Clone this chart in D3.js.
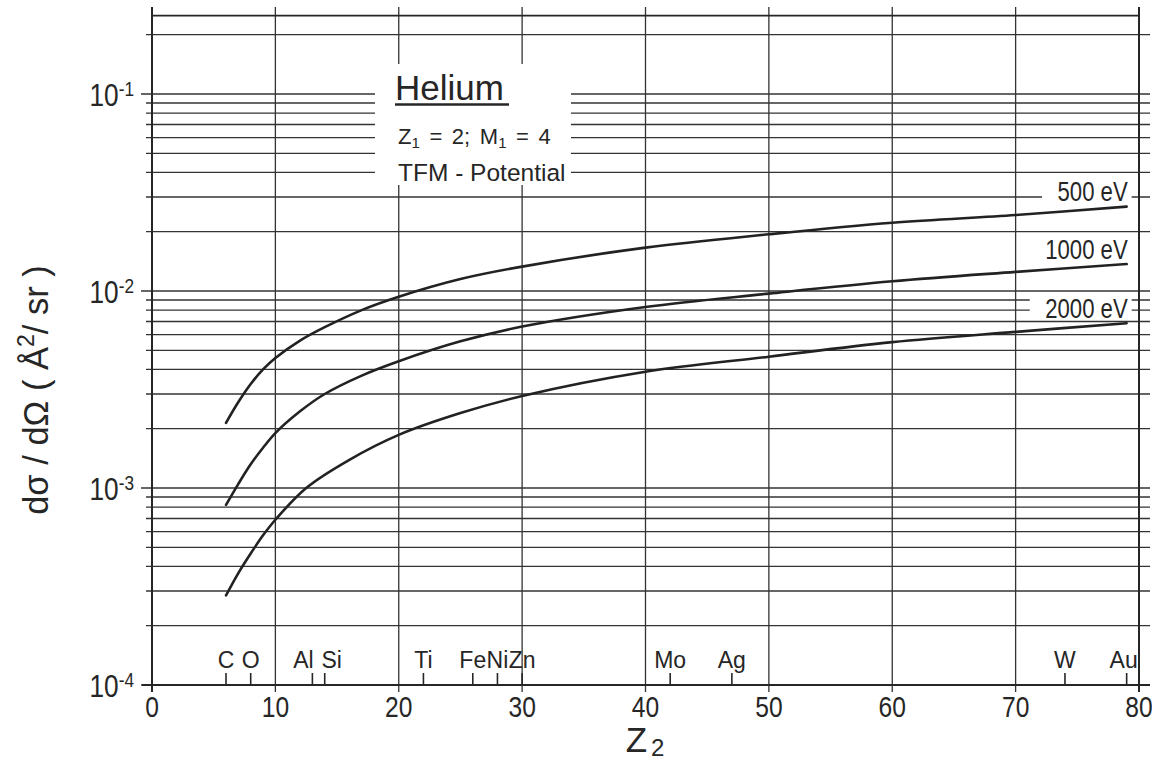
<!DOCTYPE html>
<html>
<head>
<meta charset="utf-8">
<script src="https://cdn.jsdelivr.net/npm/d3@7"></script>
<style>
  html, body { margin: 0; padding: 0; background: #fff; }
  svg { display: block; }
  text { font-family: "Liberation Sans", Arial, "DejaVu Sans", sans-serif; }
</style>
</head>
<body>
<svg id="chart" width="1152" height="761"></svg>
<script>
// ---------------- data ----------------
const seriesLabels = ["500 eV", "1000 eV", "2000 eV"];

const z500  = [6, 7, 8, 9, 10, 12, 14, 17, 20, 25, 30, 40, 50, 60, 70, 79];
const v500  = [2.14e-3, 2.73e-3, 3.37e-3, 4.0e-3, 4.57e-3, 5.6e-3, 6.55e-3, 8.0e-3, 9.35e-3, 0.0115, 0.0133, 0.0166, 0.0194, 0.0222, 0.0243, 0.0268];

const z1000 = [6, 7, 8, 9, 10, 12, 14, 17, 20, 25, 30, 40, 50, 60, 70, 79];
const v1000 = [8.2e-4, 1.05e-3, 1.32e-3, 1.6e-3, 1.9e-3, 2.45e-3, 3.0e-3, 3.72e-3, 4.4e-3, 5.55e-3, 6.6e-3, 8.3e-3, 9.7e-3, 0.0112, 0.0125, 0.0137];

const z2000 = [6, 7, 8, 9, 10, 12.5, 16, 20, 25, 30, 40, 50, 60, 70, 79];
const v2000 = [2.85e-4, 3.7e-4, 4.65e-4, 5.75e-4, 6.9e-4, 1.0e-3, 1.39e-3, 1.86e-3, 2.4e-3, 2.93e-3, 3.89e-3, 4.64e-3, 5.5e-3, 6.2e-3, 6.86e-3];

const elementNames = ["C", "O", "Al", "Si", "Ti", "Fe", "Ni", "Zn", "Mo", "Ag", "W", "Au"];
const elementZ     = [6, 8, 13, 14, 22, 26, 28, 30, 42, 47, 74, 79];

const xTickValues = [0, 10, 20, 30, 40, 50, 60, 70, 80];
const yMajorExponents = [-1, -2, -3, -4];

const legendTitle = "Helium";
const legendLine3 = "TFM - Potential";
const xTitle = "Z";
const xTitleSub = "2";

// ---------------- drawing ----------------
const svg = d3.select("#chart");
const ink = "#262626";
const NARROW = 0.82; // condensed lettering (Arial-Narrow-like) for numerals

const x = d3.scaleLinear().domain([0, 80]).range([152, 1139]);
const y = d3.scaleLog().domain([1e-4, 0.25]).range([685, 15.6]);

const gGrid = svg.append("g");
const gWhite = svg.append("g");
const gAxes = svg.append("g");
const gCurves = svg.append("g");
const gText = svg.append("g");

function narrowText(parent, px, py, anchor, size) {
  return parent.append("g")
    .attr("transform", `translate(${px},${py}) scale(${NARROW},1)`)
    .append("text").attr("x", 0).attr("y", 0)
    .attr("text-anchor", anchor).attr("font-size", size).attr("fill", ink);
}

// horizontal grid lines (log ticks)
const yTicks = y.ticks().filter(v => v <= 0.25);
const isMajor = v => Math.abs(Math.log10(v) - Math.round(Math.log10(v))) < 1e-9;
gGrid.selectAll("line.h").data(yTicks).join("line")
  .attr("x1", d => isMajor(d) ? 141 : 146)
  .attr("x2", 1150)
  .attr("y1", d => y(d)).attr("y2", d => y(d))
  .attr("stroke", "#333").attr("stroke-width", 1.3);

// vertical grid lines
gGrid.selectAll("line.v").data(xTickValues.filter(d => d > 0 && d < 80)).join("line")
  .attr("x1", d => x(d)).attr("x2", d => x(d))
  .attr("y1", 7).attr("y2", 692)
  .attr("stroke", "#333").attr("stroke-width", 1.3);

// legend white box (interrupts grid)
gWhite.append("rect").attr("x", 375).attr("y", 64).attr("width", 196).attr("height", 121).attr("fill", "#fff");

// axes frame
gAxes.append("line").attr("x1", x(0)).attr("x2", x(0)).attr("y1", 7).attr("y2", 692).attr("stroke", ink).attr("stroke-width", 2);
gAxes.append("line").attr("x1", x(80)).attr("x2", x(80)).attr("y1", 7).attr("y2", 692).attr("stroke", ink).attr("stroke-width", 2);
gAxes.append("line").attr("x1", 142).attr("x2", 1150).attr("y1", y(1e-4)).attr("y2", y(1e-4)).attr("stroke", ink).attr("stroke-width", 2);
gAxes.append("line").attr("x1", x(0)).attr("x2", x(80)).attr("y1", y(0.25)).attr("y2", y(0.25)).attr("stroke", ink).attr("stroke-width", 1.6);

// x tick labels
xTickValues.forEach(d => {
  narrowText(gText, x(d), 717, "middle", 30).text(d);
});

// y tick labels 10^k
yMajorExponents.forEach(d => {
  const t = narrowText(gText, 134, y(Math.pow(10, d)) + 12, "end", 32);
  t.append("tspan").text("10");
  t.append("tspan").attr("font-size", 21).attr("dy", -10).text("-" + Math.abs(d));
});

// element markers
const elNudge = { Al: -9, Si: 7, Au: -3 };
gAxes.selectAll("line.el").data(elementZ).join("line")
  .attr("x1", d => x(d)).attr("x2", d => x(d))
  .attr("y1", 673).attr("y2", y(1e-4))
  .attr("stroke", ink).attr("stroke-width", 1.6);
gText.selectAll("text.el").data(elementNames).join("text")
  .attr("x", (d, i) => x(elementZ[i]) + (elNudge[d] || 0)).attr("y", 668)
  .attr("text-anchor", "middle").attr("font-size", 23).attr("fill", ink)
  .text(d => d);

// x title
const xt = gText.append("text")
  .attr("x", 645).attr("y", 752).attr("text-anchor", "middle").attr("fill", ink);
xt.append("tspan").attr("font-size", 35).text(xTitle);
xt.append("tspan").attr("font-size", 24).attr("dx", 4).attr("dy", 4).text(xTitleSub);

// y title
const ytt = gText.append("text")
  .attr("transform", "translate(48,390) rotate(-90)")
  .attr("text-anchor", "middle").attr("fill", ink).attr("font-size", 34.5);
ytt.append("tspan").text("dσ / dΩ ( Å");
ytt.append("tspan").attr("font-size", 23).attr("dy", -14).text("2");
ytt.append("tspan").attr("dy", 14).text("/ sr )");

// legend
gText.append("text").attr("x", 395).attr("y", 100)
  .attr("font-size", 35).attr("fill", ink).text(legendTitle);
gText.append("line").attr("x1", 395).attr("x2", 509).attr("y1", 104.5).attr("y2", 104.5)
  .attr("stroke", ink).attr("stroke-width", 2.5);
const l2 = gText.append("text").attr("x", 398).attr("y", 144)
  .attr("font-size", 22).attr("word-spacing", 3.5).attr("fill", ink);
l2.append("tspan").text("Z");
l2.append("tspan").attr("font-size", 15).attr("dy", 4).text("1");
l2.append("tspan").attr("dy", -4).text(" = 2; M");
l2.append("tspan").attr("font-size", 15).attr("dy", 4).text("1");
l2.append("tspan").attr("dy", -4).text(" = 4");
gText.append("text").attr("x", 398).attr("y", 181)
  .attr("font-size", 24.5).attr("fill", ink).text(legendLine3);

// curves
const series = [
  { name: seriesLabels[0], z: z500,  v: v500 },
  { name: seriesLabels[1], z: z1000, v: v1000 },
  { name: seriesLabels[2], z: z2000, v: v2000 }
];
const line = d3.line().x(d => x(d[0])).y(d => y(d[1])).curve(d3.curveCatmullRom.alpha(0.5));
gCurves.selectAll("path").data(series).join("path")
  .attr("d", s => line(s.z.map((z, i) => [z, s.v[i]])))
  .attr("fill", "none").attr("stroke", "#222").attr("stroke-width", 2.6)
  .attr("stroke-linecap", "round");

// curve labels with white background interrupting the grid
series.forEach(s => {
  const lz = s.z[s.z.length - 1], lv = s.v[s.v.length - 1];
  const bx = x(lz) + 1, by = y(lv) - 5.5;
  const t = narrowText(gText, bx, by, "end", 27).text(s.name);
  const w = t.node().getBBox().width * NARROW;
  gWhite.append("rect").attr("x", bx - w - 15).attr("y", by - 21)
    .attr("width", w + 19).attr("height", 22).attr("fill", "#fff");
});
</script>
</body>
</html>
